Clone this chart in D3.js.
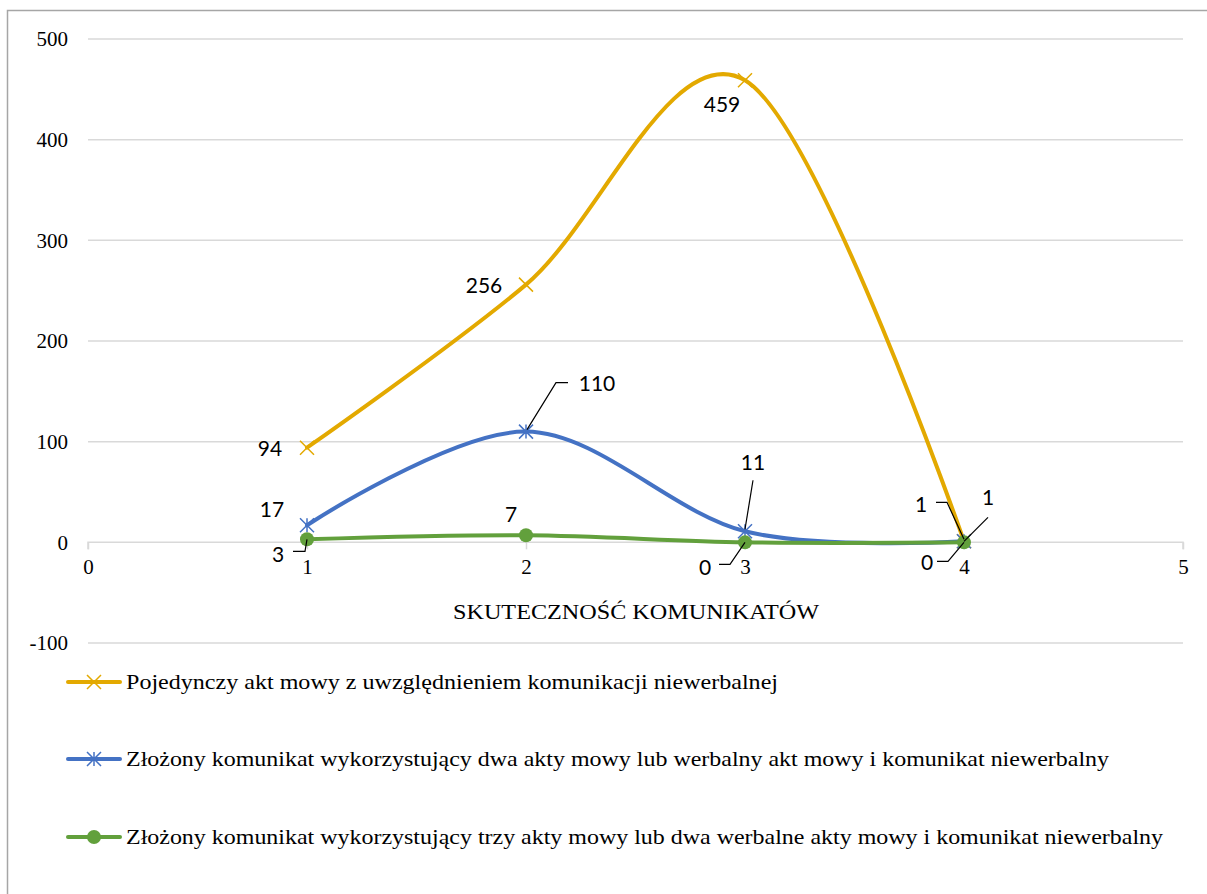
<!DOCTYPE html>
<html>
<head>
<meta charset="utf-8">
<script src="https://cdn.jsdelivr.net/npm/d3@7/dist/d3.min.js"></script>
<style>
  html, body { margin: 0; padding: 0; background: #fff; }
  svg { display: block; }
  .serif { font-family: "Liberation Serif", "Times New Roman", Tinos, "DejaVu Serif", "Noto Serif", serif; }
  .sans { font-family: Lato, "Open Sans", sans-serif; }
</style>
</head>
<body>
<svg id="chart" width="1207" height="894"></svg>
<script>
// Number of messages (x) and counts per communication type
const xValues = [1, 2, 3, 4];
const singleAct = [94, 256, 459, 1];
const twoActs = [17, 110, 11, 1];
const threeActs = [3, 7, 0, 0];

const seriesNames = [
  "Pojedynczy akt mowy z uwzględnieniem komunikacji niewerbalnej",
  "Złożony komunikat wykorzystujący dwa akty mowy lub werbalny akt mowy i komunikat niewerbalny",
  "Złożony komunikat wykorzystujący trzy akty mowy lub dwa werbalne akty mowy i komunikat niewerbalny"
];
const xTicks = [0, 1, 2, 3, 4, 5];
const yTicks = [-100, 0, 100, 200, 300, 400, 500];
const axisTitle = "SKUTECZNOŚĆ KOMUNIKATÓW";

// Label placements: offset from the point, and optional leader polyline offsets
const labelLayout = [
  [ {dx:-37, dy:1}, {dx:-42, dy:1}, {dx:-23, dy:24}, {dx:-43, dy:-37, leader:[[0,-2],[-17,-39],[-28,-39]]} ],
  [ {dx:-35, dy:-16}, {dx:71, dy:-48, leader:[[1,-2],[30,-49],[42,-49]]}, {dx:8, dy:-69, leader:[[0,-2],[8,-51]]}, {dx:24, dy:-44, leader:[[0,0],[24,-24]]} ],
  [ {dx:-29, dy:15, leader:[[0,0],[-2,12],[-14,12]]}, {dx:-15, dy:-21}, {dx:-40, dy:25, leader:[[0,0],[-15,22],[-26,22]]}, {dx:-37, dy:20, leader:[[0,0],[-16,19],[-27,19]]} ]
];

const colors = ["#E3A900", "#4472C4", "#62A03C"];
const markers = ["x", "asterisk", "circle"];

const svg = d3.select("#chart");

// outer chart frame
svg.append("rect").attr("x", 7.5).attr("y", 10.5).attr("width", 1210).attr("height", 900)
  .attr("fill", "#fff").attr("stroke", "#a6a6a6").attr("stroke-width", 1.5);

const x = d3.scaleLinear().domain([0, 5]).range([88, 1183]);
const y = d3.scaleLinear().domain([-100, 500]).range([643, 39]);

// horizontal gridlines
svg.append("g").selectAll("line").data(yTicks.filter(t => t !== 0)).join("line")
  .attr("x1", x(0)).attr("x2", x(5))
  .attr("y1", d => y(d)).attr("y2", d => y(d))
  .attr("stroke", "#d9d9d9").attr("stroke-width", 1.5);

// y tick labels
svg.append("g").selectAll("text").data(yTicks).join("text")
  .attr("class", "serif")
  .attr("x", 68).attr("y", d => y(d)).attr("dy", "0.35em")
  .attr("text-anchor", "end")
  .attr("font-size", 21).attr("fill", "#000")
  .text(d => d);

// x axis at zero
const xAxis = d3.axisBottom(x).tickValues(xTicks).tickSize(7).tickPadding(10).tickFormat(d3.format("d"));
const gx = svg.append("g").attr("transform", `translate(0,${y(0)})`).call(xAxis);
gx.attr("font-family", null).attr("font-size", null);
gx.select(".domain").attr("stroke", "#d9d9d9").attr("stroke-width", 1.5).attr("d", `M${x(0)},7V0H${x(5)}V7`);
gx.selectAll(".tick line").attr("stroke", "#d9d9d9").attr("stroke-width", 1.5);
gx.selectAll(".tick text").attr("class", "serif").attr("font-size", 21).attr("fill", "#000");

svg.append("text").attr("class", "serif").attr("x", 636).attr("y", 619).attr("text-anchor", "middle")
  .attr("font-size", 21).attr("fill", "#000")
  .attr("textLength", 366).attr("lengthAdjust", "spacingAndGlyphs")
  .text(axisTitle);

function drawMarker(g, type, cx, cy, color) {
  const s = 7;
  if (type === "circle") {
    g.append("circle").attr("cx", cx).attr("cy", cy).attr("r", 7).attr("fill", color);
  } else {
    const p = d3.path();
    p.moveTo(cx - s, cy - s); p.lineTo(cx + s, cy + s);
    p.moveTo(cx - s, cy + s); p.lineTo(cx + s, cy - s);
    if (type === "asterisk") { p.moveTo(cx, cy - s); p.lineTo(cx, cy + s); }
    g.append("path").attr("d", p.toString()).attr("stroke", color).attr("stroke-width", 1.5).attr("fill", "none");
  }
}

const allSeries = [singleAct, twoActs, threeActs];
const line = d3.line().x(d => x(d[0])).y(d => y(d[1])).curve(d3.curveCardinal.tension(0));
const plot = svg.append("g");

allSeries.forEach((vals, i) => {
  const pts = xValues.map((xv, j) => [xv, vals[j]]);
  plot.append("path").attr("d", line(pts)).attr("fill", "none")
    .attr("stroke", colors[i]).attr("stroke-width", 4).attr("stroke-linecap", "round");
});
allSeries.forEach((vals, i) => {
  xValues.forEach((xv, j) => drawMarker(plot, markers[i], x(xv), y(vals[j]), colors[i]));
});

// data labels with leader lines
const labels = svg.append("g");
allSeries.forEach((vals, i) => {
  xValues.forEach((xv, j) => {
    const L = labelLayout[i][j];
    const px = x(xv), py = y(vals[j]);
    if (L.leader) {
      labels.append("path")
        .attr("d", d3.line()(L.leader.map(o => [px + o[0], py + o[1]])))
        .attr("fill", "none").attr("stroke", "#000").attr("stroke-width", 1.2);
    }
    labels.append("text").attr("class", "sans").attr("x", px + L.dx).attr("y", py + L.dy).attr("dy", "0.35em")
      .attr("text-anchor", "middle").attr("font-size", 21).attr("fill", "#000")
      .text(vals[j]);
  });
});

// legend
const legendY = [682, 759, 837];
const legendWidths = [652, 983, 1037];
const legend = svg.append("g");
seriesNames.forEach((name, i) => {
  const ly = legendY[i];
  legend.append("line").attr("x1", 68).attr("x2", 120).attr("y1", ly).attr("y2", ly)
    .attr("stroke", colors[i]).attr("stroke-width", 4).attr("stroke-linecap", "round");
  drawMarker(legend, markers[i], 94, ly, colors[i]);
  legend.append("text").attr("class", "serif").attr("x", 126).attr("y", ly).attr("dy", "0.35em")
    .attr("font-size", 21).attr("fill", "#000")
    .attr("textLength", legendWidths[i]).attr("lengthAdjust", "spacingAndGlyphs")
    .text(name);
});
</script>
</body>
</html>
